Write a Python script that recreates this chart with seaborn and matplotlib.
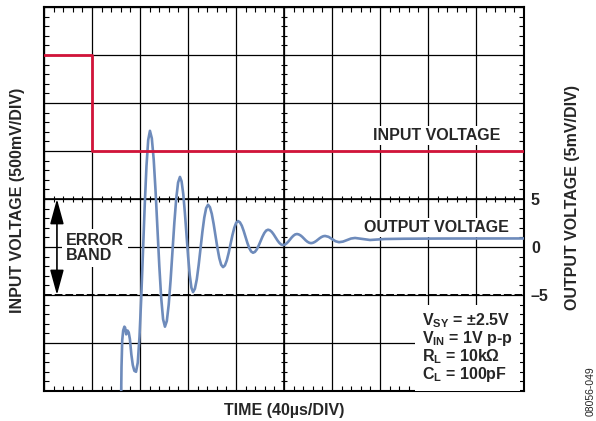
import matplotlib
matplotlib.use("Agg")
import matplotlib.pyplot as plt
from matplotlib.ticker import MultipleLocator, FuncFormatter
import numpy as np
import seaborn as sns

# input step (500mV/DIV), time in us
input_t = [0, 40, 40, 400]
input_v = [2.0, 2.0, 1.0, 1.0]

# output settling (5mV/DIV)
output_t = [64.2, 64.6, 65.2, 66.0, 67.0, 67.6, 68.5, 69.6, 70.6, 71.6, 72.8, 74.0, 75.3, 76.7,
            78.15, 79.6, 81.05, 82.5, 83.95, 85.4, 86.85, 88.3,
            89.86, 91.43, 92.99, 94.55, 96.11, 97.68, 99.24, 100.8,
            102.36, 103.93, 105.49, 107.05, 108.61, 110.18, 111.74, 113.3,
            114.66, 116.03, 117.39, 118.75, 120.11, 121.48, 122.84, 124.2,
            125.76, 127.33, 128.89, 130.45, 132.01, 133.58, 135.14, 136.7,
            138.26, 139.83, 141.39, 142.95, 144.51, 146.08, 147.64, 149.2,
            150.76, 152.33, 153.89, 155.45, 157.01, 158.58, 160.14, 161.7,
            163.26, 164.83, 166.39, 167.95, 169.51, 171.08, 172.64, 174.2,
            175.76, 177.33, 178.89, 180.45, 182.01, 183.58, 185.14, 186.7,
            188.26, 189.83, 191.39, 192.95, 194.51, 196.08, 197.64, 199.2,
            200.65, 202.1, 203.55, 205.0, 206.45, 207.9, 209.35, 210.8,
            212.26, 213.73, 215.19, 216.65, 218.11, 219.58, 221.04, 222.5,
            223.96, 225.43, 226.89, 228.35, 229.81, 231.28, 232.74, 234.2,
            237.1, 240.0, 242.9, 245.8, 249.15, 252.5, 255.85, 259.2,
            265.45, 271.7, 284, 300, 330, 400]
output_mv = [-16.5, -12.5, -9.7, -8.7, -8.3, -8.4, -9.1, -8.7, -8.9, -9.6, -11.2, -12.3, -12.9, -13.0,
             -12.05, -9.32, -5.26, -0.45, 4.36, 8.42, 11.15, 12.1,
             11.32, 9.11, 5.81, 1.9, -2.01, -5.31, -7.52, -8.3,
             -7.71, -6.01, -3.49, -0.5, 2.49, 5.01, 6.71, 7.3,
             6.84, 5.54, 3.6, 1.3, -1.0, -2.94, -4.24, -4.7,
             -4.35, -3.37, -1.89, -0.15, 1.59, 3.07, 4.05, 4.4,
             4.15, 3.45, 2.39, 1.15, -0.09, -1.15, -1.85, -2.1,
             -1.92, -1.4, -0.62, 0.3, 1.22, 2.0, 2.52, 2.7,
             2.57, 2.22, 1.68, 1.05, 0.42, -0.12, -0.47, -0.6,
             -0.51, -0.25, 0.14, 0.6, 1.06, 1.45, 1.71, 1.8,
             1.74, 1.57, 1.31, 1.0, 0.69, 0.43, 0.26, 0.2,
             0.24, 0.37, 0.55, 0.78, 1.0, 1.18, 1.31, 1.35,
             1.31, 1.21, 1.06, 0.88, 0.69, 0.54, 0.44, 0.4,
             0.43, 0.51, 0.63, 0.78, 0.92, 1.04, 1.12, 1.15,
             1.06, 0.83, 0.6, 0.5, 0.56, 0.72, 0.88, 0.94,
             0.84, 0.73, 0.83, 0.86, 0.88, 0.89]

right_tick_labels = {5: "5", 0: "0", -5: "\u20135"}
conditions = [r"$V_{SY}$ = ±2.5V", r"$V_{IN}$ = 1V p-p", r"$R_L$ = 10kΩ", r"$C_L$ = 100pF"]

sns.set_style("ticks")
plt.rcParams["font.family"] = ["Liberation Sans", "DejaVu Sans"]
plt.rcParams["font.weight"] = "bold"
plt.rcParams["mathtext.fontset"] = "custom"
plt.rcParams["mathtext.rm"] = "Liberation Sans:bold"
plt.rcParams["mathtext.it"] = "Liberation Sans:bold"
plt.rcParams["mathtext.bf"] = "Liberation Sans:bold"
plt.rcParams["mathtext.default"] = "rm"

red = "#d2143a"
blue = "#6e8bbb"
fs = 11.5

fig = plt.figure(figsize=(5.96, 4.21), dpi=100)
ax = fig.add_axes([0.0738, 0.0713, 0.8054, 0.9121])
ax2 = ax.twinx()

ax.set_xlim(0, 400)
ax.set_ylim(-15, 25)
ax.xaxis.set_major_locator(MultipleLocator(40))
ax.xaxis.set_minor_locator(MultipleLocator(8))
ax.yaxis.set_major_locator(MultipleLocator(5))
ax.yaxis.set_minor_locator(MultipleLocator(1))
ax.grid(True, which="major", color="black", lw=0.9)
ax.set_axisbelow(True)
ax.yaxis.tick_right()
ax.tick_params(which="both", direction="in", left=True, right=True, top=True, bottom=True,
               labelleft=False, labelright=False, labelbottom=False, color="black")
ax.tick_params(which="major", length=0)
ax.tick_params(which="minor", length=3.5, width=0.8)
ax.tick_params(axis="y", which="major", labelright=True, pad=5, labelsize=fs)
ax.yaxis.set_major_formatter(FuncFormatter(lambda v, p: right_tick_labels.get(int(round(v)), "")))
for sp in ax.spines.values():
    sp.set_linewidth(1.5)
    sp.set_color("black")

# center lines with cross ticks
ax.axhline(5, color="black", lw=1.2)
ax.axvline(200, color="black", lw=1.2)
ax.plot(np.arange(0, 401, 8), np.full(51, 5.0), ls="none", marker="|", ms=5, mew=0.8, color="black")
ax.plot(np.full(41, 200.0), np.arange(-15, 26, 1), ls="none", marker="_", ms=5, mew=0.8, color="black")
ax.axhline(-5, color="black", lw=1.4, ls=(0, (4, 1.5)))

sns.lineplot(x=output_t, y=output_mv, ax=ax, color=blue, lw=1.9, estimator=None, sort=False, zorder=4)

ax2.set_ylim(-1.5, 2.5)
ax2.set_yticks([])
for sp in ax2.spines.values():
    sp.set_visible(False)
sns.lineplot(x=input_t, y=input_v, ax=ax2, color=red, lw=2.0, estimator=None, sort=False)
ax2.set_ylabel("")
ax2.set_xlim(0, 400)

box = dict(facecolor="white", edgecolor="none", pad=1.5)
ax.text(327, 11.6, "INPUT VOLTAGE", ha="center", va="center", fontsize=fs, fontweight="bold", bbox=box, zorder=5)
ax.text(327, 2.0, "OUTPUT VOLTAGE", ha="center", va="center", fontsize=fs, fontweight="bold", bbox=box, zorder=5)
ax.text(18.3, -0.1, "ERROR\nBAND", ha="left", va="center", fontsize=fs, fontweight="bold",
        linespacing=0.95, bbox=dict(facecolor="white", edgecolor="none", pad=3), zorder=5)
ax.text(315, -10.5, "\n".join(conditions), ha="left", va="center", fontsize=fs, fontweight="bold",
        linespacing=0.95, bbox=dict(facecolor="white", edgecolor="none", pad=5), zorder=5)

ax.annotate("", xy=(10.8, 5), xytext=(10.8, -5),
            arrowprops=dict(arrowstyle="<|-|>,head_length=1.1,head_width=0.3", color="black",
                            lw=1.2, mutation_scale=14, shrinkA=0, shrinkB=0), zorder=5)

fig.text(0.030, 0.525, "INPUT VOLTAGE (500mV/DIV)", rotation=90, ha="center", va="center",
         fontsize=fs, fontweight="bold")
fig.text(0.960, 0.530, "OUTPUT VOLTAGE (5mV/DIV)", rotation=90, ha="center", va="center",
         fontsize=fs, fontweight="bold")
fig.text(0.4765, 0.026, "TIME (40µs/DIV)", ha="center", va="center", fontsize=fs, fontweight="bold")
fig.text(0.991, 0.070, "08056-049", rotation=90, ha="center", va="center", fontsize=7.5, fontweight="normal")

fig.savefig("out.png", dpi=100)
